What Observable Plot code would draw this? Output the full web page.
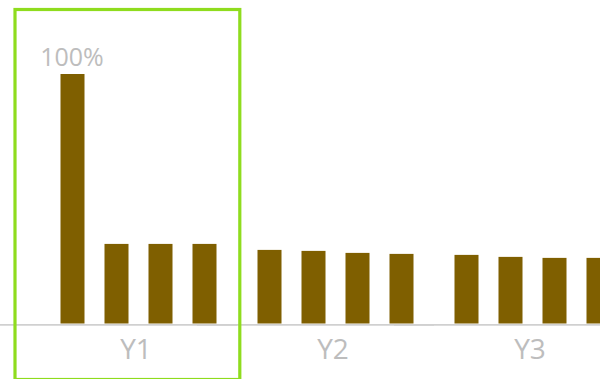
<!DOCTYPE html>
<html>
<head>
<meta charset="utf-8">
<script src="https://cdn.jsdelivr.net/npm/d3@7"></script>
<script src="https://cdn.jsdelivr.net/npm/@observablehq/plot@0.6"></script>
<style>
  html, body { margin: 0; padding: 0; background: #fff; overflow: hidden; }
  #chart { width: 600px; height: 379px; overflow: hidden; }
  #chart svg { max-width: none !important; display: block; }
</style>
</head>
<body>
<div id="chart"></div>
<script>
// Groups along the axis and the four bars inside each group
const groups = ["Y1", "Y2", "Y3"];
const series = ["S1", "S2", "S3", "S4"];

// Share of the first bar of Y1 (=100%) for each bar, per group
const valuesY1 = [1.00, 0.319, 0.319, 0.319];
const valuesY2 = [0.295, 0.291, 0.283, 0.279];
const valuesY3 = [0.275, 0.267, 0.263, 0.263];

// Group that is outlined
const highlighted = ["Y1"];

const valuesByGroup = {Y1: valuesY1, Y2: valuesY2, Y3: valuesY3};
const data = groups.flatMap(g =>
  series.map((s, i) => ({group: g, series: s, value: valuesByGroup[g][i]}))
);

const pct = d3.format(".0%");

const chart = Plot.plot({
  width: 631,
  height: 379,
  marginLeft: 39.5,
  marginRight: 0,
  marginTop: 74,
  marginBottom: 55.5,
  style: {fontFamily: "'Open Sans', sans-serif", background: "#fff", maxWidth: "none"},
  fx: {domain: groups, padding: 0},
  x: {domain: series, padding: 0.46, axis: null},
  y: {domain: [0, 1], axis: null},
  marks: [
    Plot.ruleY([0], {stroke: "#d0d0d0", strokeWidth: 1.8, dy: 0.9, insetLeft: -40}),
    Plot.barY(data, {fx: "group", x: "series", y: "value", fill: "#7f5f00"}),
    Plot.text(data, {
      filter: d => d.value === 1,
      fx: "group", x: "series", y: "value",
      text: d => pct(d.value),
      lineAnchor: "bottom", dy: -9, dx: -1,
      fontSize: 25, fill: "#bdbdbd"
    }),
    Plot.axisFx({
      anchor: "bottom", tickSize: 0, tickPadding: 15, label: null,
      fontSize: 28, color: "#bdbdbd", dx: -3
    }),
    Plot.rect(highlighted, {
      fx: d => d,
      fill: "none", stroke: "#8fdc1e", strokeWidth: 3.2,
      insetLeft: -25, insetRight: -2.8, insetTop: -64.5, insetBottom: -56
    })
  ]
});

document.getElementById("chart").append(chart);
</script>
</body>
</html>
